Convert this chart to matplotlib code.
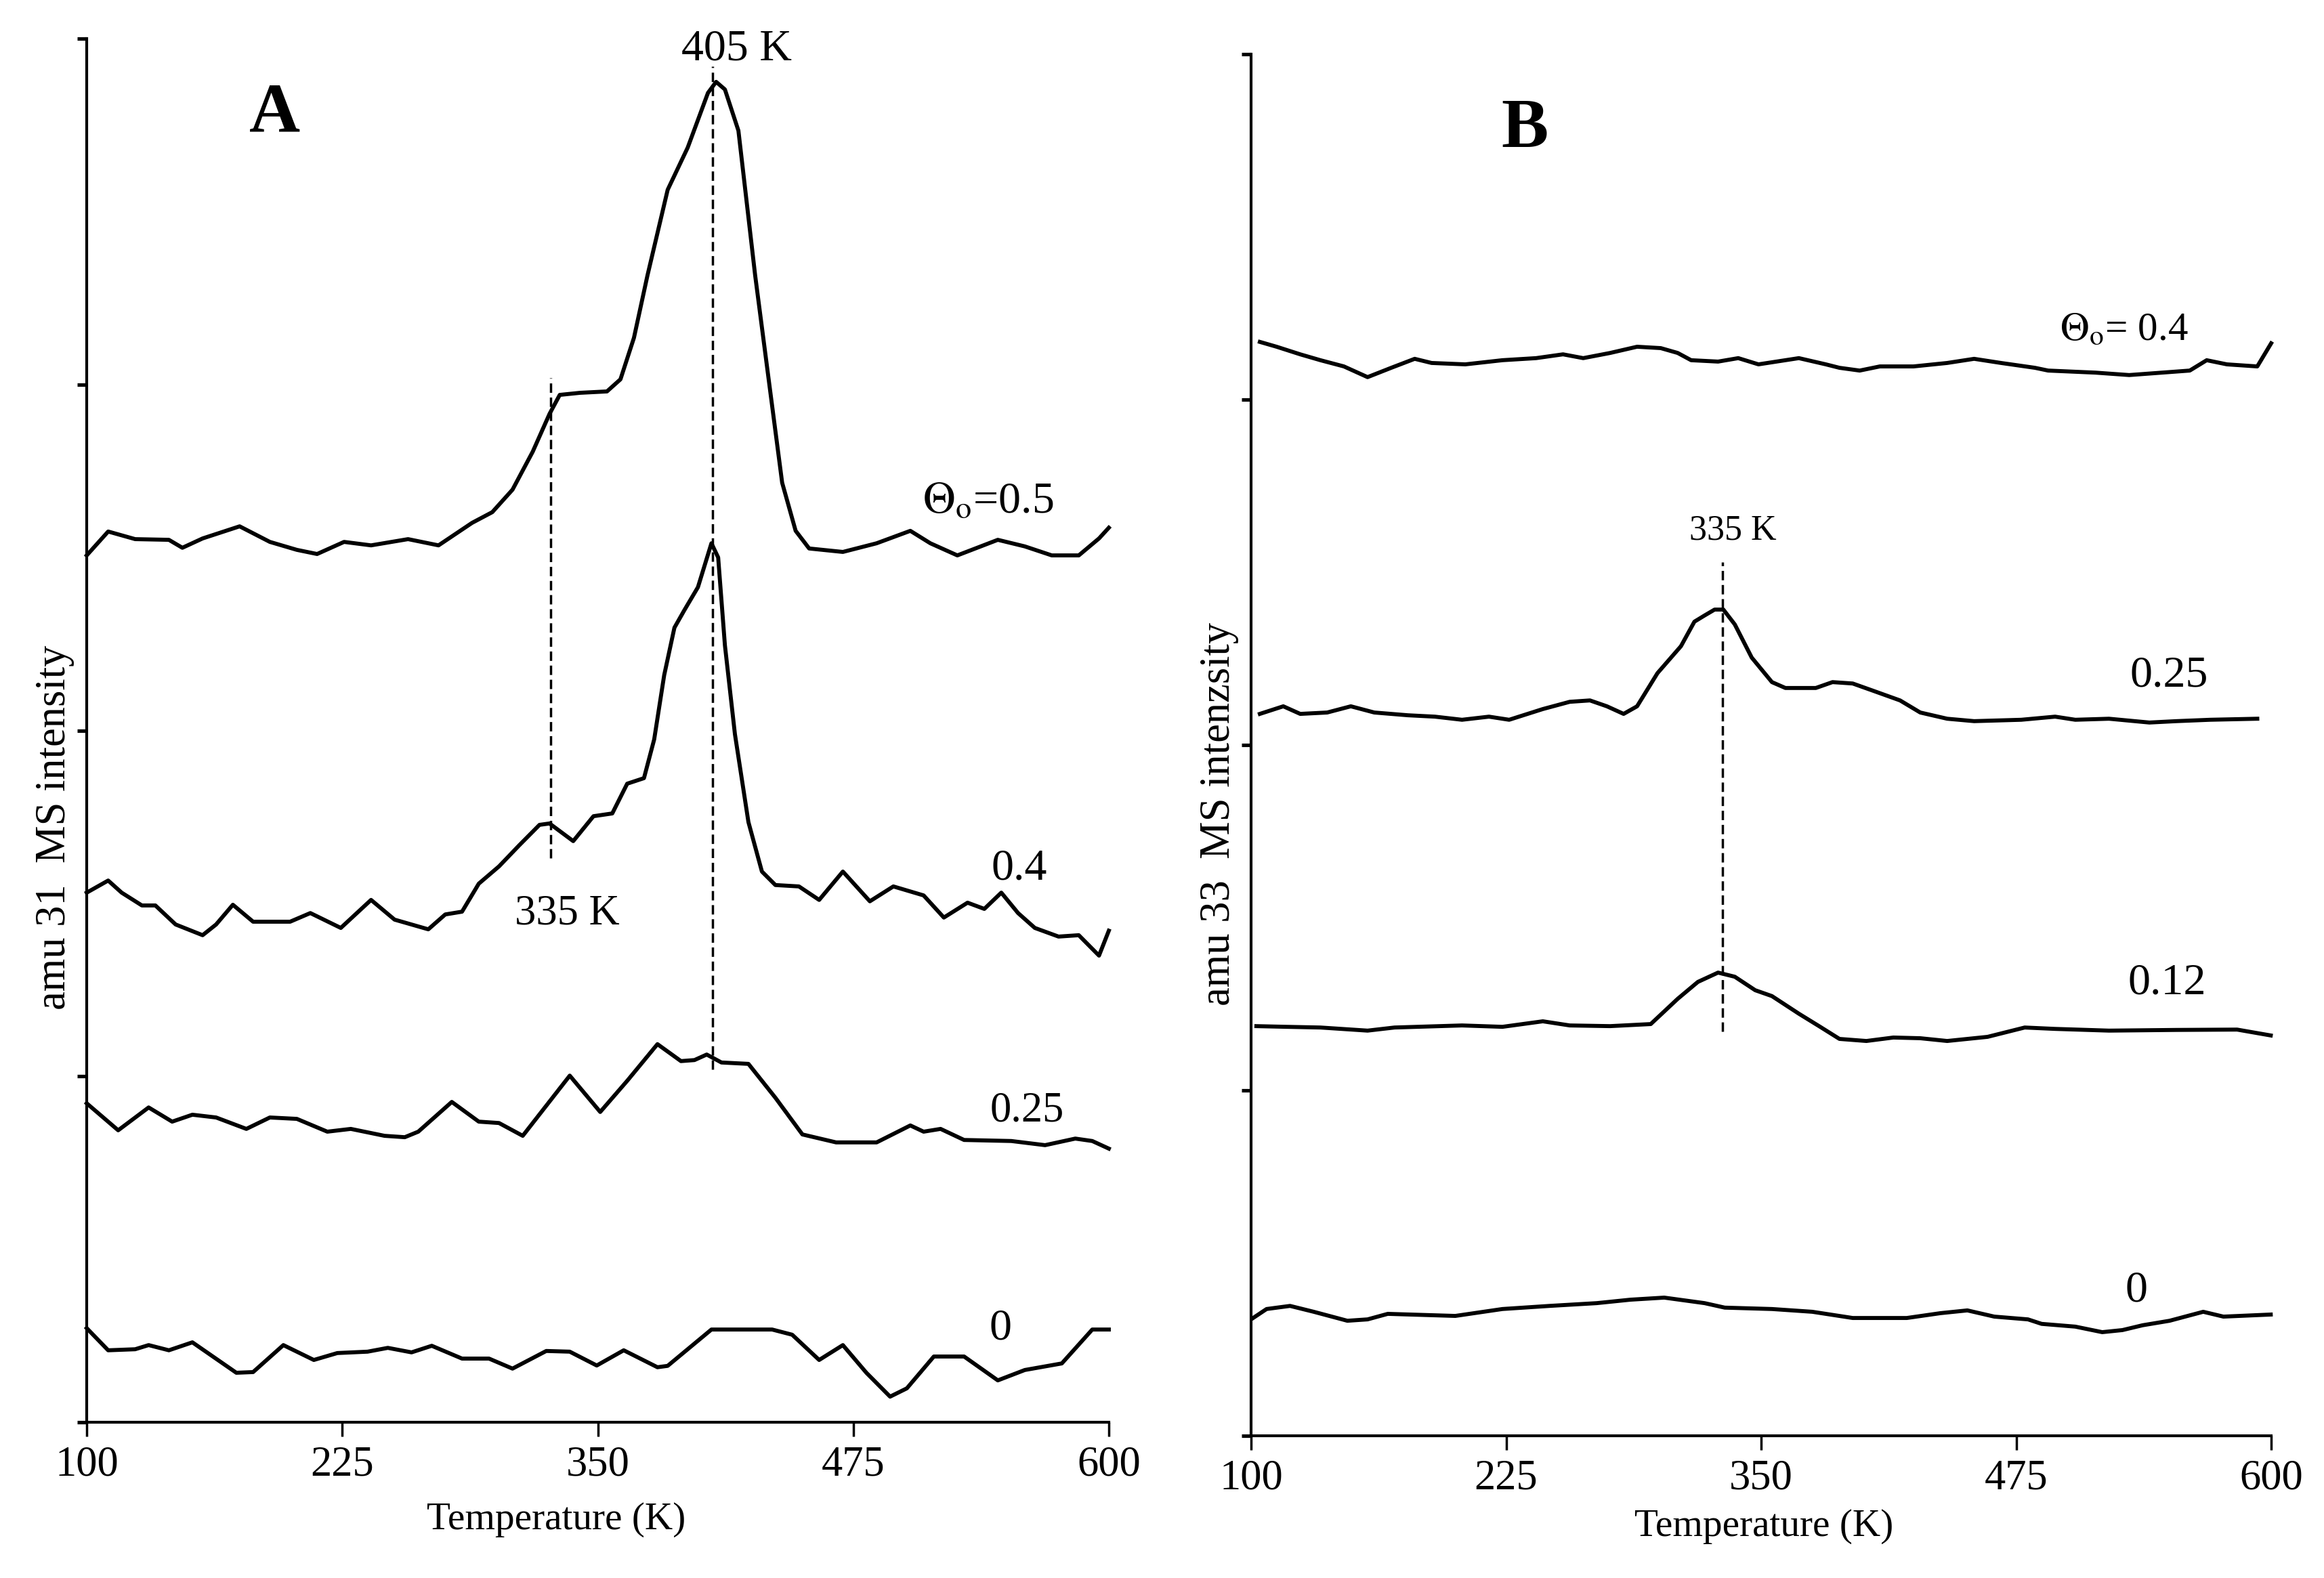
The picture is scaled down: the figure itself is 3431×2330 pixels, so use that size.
import matplotlib
matplotlib.use('Agg')
import matplotlib.pyplot as plt

plt.rcParams['font.family'] = ['Liberation Serif', 'DejaVu Serif']
plt.rcParams['mathtext.fontset'] = 'stix'

# ---- panel A: amu 31 (arbitrary intensity units, curves offset) ----
a_T_05 = [100, 110.5, 123.7, 140.2, 146.8, 156.7, 174.8, 189.6, 202.8, 212.7, 225.9, 239.1, 257.2,
          272.1, 288.5, 298.4, 308.3, 318.2, 326.4, 331.4, 341.3, 354.5, 361.1, 367.7, 374.3, 384.2,
          394.0, 403.9, 407.9, 412.2, 418.8, 427.0, 433.6, 440.2, 446.8, 453.4, 469.9, 486.4, 502.9,
          512.7, 525.9, 545.7, 558.9, 572.1, 585.3, 595.2, 600]
a_I_05 = [2.506, 2.575, 2.553, 2.551, 2.528, 2.555, 2.590, 2.545, 2.522, 2.510, 2.545, 2.535, 2.553,
          2.535, 2.600, 2.631, 2.696, 2.806, 2.915, 2.970, 2.976, 2.980, 3.015, 3.135, 3.315, 3.563,
          3.685, 3.843, 3.875, 3.853, 3.734, 3.315, 3.015, 2.716, 2.577, 2.526, 2.516, 2.541, 2.577,
          2.541, 2.506, 2.551, 2.532, 2.506, 2.506, 2.555, 2.586]

a_T_04 = [100, 110.5, 117.1, 127.0, 133.6, 143.5, 156.7, 163.3, 171.5, 181.4, 199.5, 209.4, 224.3,
          239.1, 250.6, 267.1, 275.4, 283.6, 291.8, 301.7, 311.6, 321.5, 326.4, 338.0, 347.9, 357.1,
          364.4, 372.6, 377.6, 382.5, 387.5, 392.4, 399.0, 405.6, 408.9, 412.2, 417.1, 423.7, 430.3,
          436.9, 448.4, 458.3, 469.9, 483.1, 494.6, 509.4, 519.3, 530.9, 539.1, 547.4, 555.6, 563.8,
          575.4, 585.3, 595.2, 600]
a_I_04 = [1.531, 1.566, 1.531, 1.494, 1.494, 1.439, 1.408, 1.439, 1.496, 1.447, 1.447, 1.472, 1.429,
          1.510, 1.453, 1.425, 1.468, 1.476, 1.557, 1.607, 1.668, 1.727, 1.731, 1.680, 1.752, 1.760,
          1.846, 1.862, 1.974, 2.160, 2.297, 2.348, 2.414, 2.541, 2.500, 2.246, 1.989, 1.735, 1.592,
          1.553, 1.549, 1.510, 1.592, 1.506, 1.549, 1.523, 1.459, 1.502, 1.484, 1.531, 1.472, 1.429,
          1.404, 1.408, 1.349, 1.421]

a_T_025 = [100, 115.4, 130.3, 141.8, 151.7, 163.3, 178.1, 189.6, 202.8, 217.7, 229.2, 245.7, 255.6,
           262.2, 278.6, 291.8, 301.7, 313.3, 336.3, 351.2, 364.4, 379.2, 390.7, 397.3, 403.3, 410.5,
           423.7, 436.9, 450.1, 466.6, 486.4, 502.9, 509.4, 517.7, 529.2, 552.3, 568.8, 583.6, 591.9,
           600]
a_I_025 = [0.922, 0.844, 0.910, 0.869, 0.889, 0.881, 0.848, 0.881, 0.877, 0.840, 0.848, 0.828, 0.824,
           0.840, 0.926, 0.869, 0.865, 0.828, 1.002, 0.897, 0.987, 1.093, 1.044, 1.047, 1.063, 1.040,
           1.036, 0.938, 0.832, 0.809, 0.809, 0.858, 0.840, 0.848, 0.816, 0.813, 0.801, 0.820, 0.813,
           0.791]

a_T_0 = [100, 110.5, 123.7, 130.3, 140.2, 151.7, 173.2, 181.4, 196.2, 211.1, 222.6, 237.4, 247.3,
         258.9, 268.8, 283.6, 296.8, 308.3, 324.8, 336.3, 349.5, 362.7, 379.2, 384.2, 405.6, 435.3,
         445.1, 458.3, 469.9, 481.4, 493.0, 501.2, 514.4, 529.2, 545.7, 558.9, 577.0, 591.9, 600]
a_I_0 = [0.272, 0.208, 0.211, 0.223, 0.208, 0.231, 0.143, 0.145, 0.223, 0.180, 0.200, 0.204, 0.215,
         0.202, 0.221, 0.184, 0.184, 0.155, 0.206, 0.204, 0.164, 0.208, 0.159, 0.163, 0.268, 0.268,
         0.253, 0.180, 0.223, 0.143, 0.074, 0.098, 0.190, 0.190, 0.121, 0.151, 0.170, 0.268, 0.268]

# ---- panel B: amu 33 ----
b_T_04 = [104.3, 112.5, 124.1, 134.0, 145.5, 157.1, 168.7, 180.2, 188.5, 205.0, 223.2, 239.7, 252.9,
          262.8, 276.0, 289.2, 300.8, 309.1, 315.7, 328.9, 338.8, 348.7, 368.5, 381.7, 388.4, 398.3,
          408.2, 424.7, 441.2, 454.4, 467.6, 484.2, 490.7, 513.9, 530.4, 560.1, 568.4, 578.3, 593.2,
          600]
b_I_04 = [3.167, 3.153, 3.131, 3.114, 3.096, 3.065, 3.092, 3.118, 3.106, 3.102, 3.114, 3.120, 3.131,
          3.120, 3.135, 3.153, 3.149, 3.135, 3.114, 3.110, 3.120, 3.102, 3.120, 3.102, 3.092, 3.084,
          3.096, 3.096, 3.106, 3.118, 3.106, 3.092, 3.084, 3.078, 3.071, 3.084, 3.114, 3.102, 3.096,
          3.163]

b_T_025 = [104.3, 115.8, 124.1, 137.3, 148.9, 160.4, 176.9, 190.1, 203.4, 216.6, 226.5, 243.0, 256.2,
           266.1, 274.4, 282.6, 289.2, 299.2, 310.7, 317.3, 322.3, 327.2, 331.5, 337.1, 345.4, 355.3,
           361.9, 376.8, 385.0, 394.9, 404.9, 418.1, 428.0, 441.2, 454.4, 477.5, 494.1, 504.0, 520.5,
           540.3, 553.5, 570.1, 593.2]
b_I_025 = [2.090, 2.112, 2.090, 2.094, 2.112, 2.094, 2.086, 2.082, 2.073, 2.082, 2.073, 2.104, 2.125,
           2.129, 2.112, 2.090, 2.112, 2.208, 2.286, 2.357, 2.375, 2.392, 2.392, 2.349, 2.253, 2.182,
           2.165, 2.165, 2.182, 2.178, 2.157, 2.129, 2.094, 2.076, 2.069, 2.073, 2.082, 2.073, 2.076,
           2.065, 2.069, 2.073, 2.076]

b_T_012 = [102.6, 117.5, 134.0, 157.1, 170.3, 203.4, 223.2, 243.0, 256.2, 276.0, 295.9, 309.1, 319.0,
           328.9, 337.1, 347.1, 355.3, 368.5, 378.4, 388.4, 401.6, 414.8, 428.0, 441.2, 461.0, 479.2,
           494.1, 520.5, 553.5, 583.3, 599.8]
b_I_012 = [1.186, 1.184, 1.182, 1.173, 1.182, 1.188, 1.184, 1.200, 1.188, 1.186, 1.192, 1.265, 1.314,
           1.341, 1.329, 1.290, 1.273, 1.222, 1.186, 1.149, 1.143, 1.153, 1.151, 1.143, 1.155, 1.182,
           1.178, 1.173, 1.175, 1.176, 1.159]

b_T_0 = [101.0, 107.6, 119.1, 130.7, 147.2, 157.1, 167.0, 200.1, 223.2, 246.3, 269.4, 285.9, 302.5,
         322.3, 332.2, 355.3, 375.1, 394.9, 421.4, 437.9, 451.1, 464.3, 480.8, 487.5, 504.0, 517.2,
         527.1, 537.0, 550.2, 566.7, 576.6, 599.8]
b_I_0 = [0.341, 0.367, 0.376, 0.359, 0.333, 0.337, 0.353, 0.347, 0.367, 0.376, 0.384, 0.394, 0.400,
         0.384, 0.371, 0.367, 0.359, 0.341, 0.341, 0.355, 0.363, 0.345, 0.337, 0.324, 0.316, 0.300,
         0.306, 0.320, 0.333, 0.359, 0.345, 0.351]

xticks = [100, 225, 350, 475, 600]

# dashed guide lines: (T, I_low, I_high)
a_guides = [(406, 1.02, 3.92), (327, 1.63, 3.02)]
b_guides = [(331, 1.17, 2.53)]

# curve labels: (text, T, I, fontsize)
a_labels = [(r'$\Theta_{\rm o}$=0.5', 541, 2.66, 19), ('0.4', 556, 1.60, 19), ('0.25', 560, 0.90, 18),
            ('0', 547, 0.27, 19), ('405 K', 418, 3.97, 19), ('335 K', 335, 1.47, 18)]
b_labels = [(r'$\Theta_{\rm o}$= 0.4', 528, 3.20, 17), ('0.25', 550, 2.20, 19), ('0.12', 549, 1.31, 19),
            ('0', 534, 0.42, 19), ('335 K', 336, 2.62, 15)]

W, H = 3431, 2330
fig = plt.figure(figsize=(W / 250, H / 250), dpi=250)
axA = fig.add_axes([128 / W, 1 - 2100 / H, 1509 / W, 2043 / H])
axB = fig.add_axes([1847 / W, 1 - 2120 / H, 1506 / W, 2040 / H])


def style(ax, ylabel, ylab_xy, xlab_xy):
    ax.set_xlim(100, 600)
    ax.set_ylim(0, 4)
    for s in ['top', 'right']:
        ax.spines[s].set_visible(False)
    for s in ['left', 'bottom']:
        ax.spines[s].set_linewidth(1.2)
    ax.set_xticks(xticks)
    ax.set_yticks([0, 1, 2, 3, 4])
    ax.set_yticklabels([])
    ax.tick_params(axis='x', direction='out', length=6, width=1.0, pad=4, labelsize=18)
    ax.tick_params(axis='y', direction='out', length=4, width=1.5)
    ax.set_xlabel('Temperature (K)', fontsize=16.5)
    ax.xaxis.set_label_coords(*xlab_xy)
    ax.set_ylabel(ylabel, fontsize=18)
    ax.yaxis.set_label_coords(*ylab_xy)


for T, I in [(a_T_05, a_I_05), (a_T_04, a_I_04), (a_T_025, a_I_025), (a_T_0, a_I_0)]:
    axA.plot(T, I, color='black', lw=1.7, clip_on=False, solid_joinstyle='round')
for T, I in [(b_T_04, b_I_04), (b_T_025, b_I_025), (b_T_012, b_I_012), (b_T_0, b_I_0)]:
    axB.plot(T, I, color='black', lw=1.7, clip_on=False, solid_joinstyle='round')

for ax, guides in [(axA, a_guides), (axB, b_guides)]:
    for t, lo, hi in guides:
        ax.plot([t, t], [lo, hi], color='black', lw=1.0, ls=(0, (4, 2)))

for ax, labels in [(axA, a_labels), (axB, b_labels)]:
    for txt, t, i, fs in labels:
        ax.text(t, i, txt, fontsize=fs, ha='center', va='center')

axA.text(192, 3.78, 'A', fontsize=30, fontweight='bold', ha='center', va='center')
axB.text(234, 3.78, 'B', fontsize=30, fontweight='bold', ha='center', va='center')

style(axA, 'amu 31  MS intensity', (-0.012, 0.43), (0.459, -0.058))
style(axB, 'amu 33  MS intenzsity', (-0.012, 0.45), (0.503, -0.053))

fig.savefig('out.png', dpi=250, facecolor='white')
